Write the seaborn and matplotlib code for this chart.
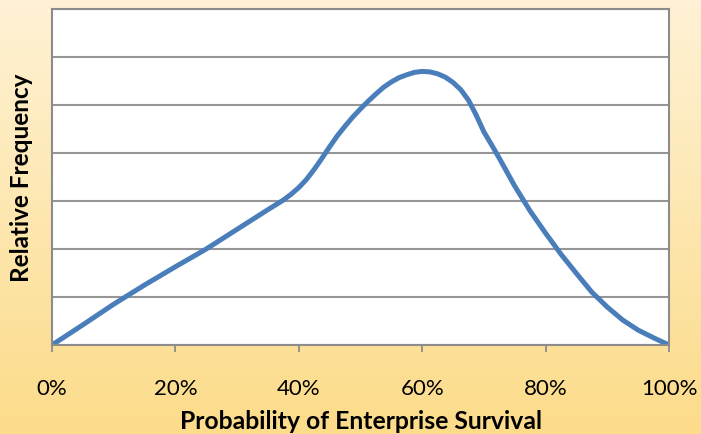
import numpy as np
import pandas as pd
import matplotlib
matplotlib.use("Agg")
import matplotlib.pyplot as plt
from matplotlib.colors import LinearSegmentedColormap
import seaborn as sns

# values
survival_pct = [0, 5, 10, 15, 20, 25, 30, 35, 36.25, 37.5, 38.75, 40, 41.25, 42.5,
                43.75, 45, 46.25, 47.5, 48.75, 50, 51.25, 52.5, 53.75, 55, 56.25,
                57.5, 58.75, 60, 61.25, 62.5, 63.75, 65, 66.25, 67.5, 68.75,
                70, 71.25, 72.5, 73.75, 75, 77.5, 80, 82.5, 85, 87.5, 90, 92.5, 95,
                97.5, 100]
rel_freq = [0, 0.42, 0.85, 1.25, 1.63, 2.0, 2.41, 2.82, 2.92, 3.02, 3.14, 3.28, 3.45,
            3.66, 3.89, 4.13, 4.36, 4.56, 4.75, 4.92, 5.08, 5.23, 5.37, 5.48, 5.57,
            5.63, 5.68, 5.70, 5.69, 5.65, 5.58, 5.47, 5.32, 5.10, 4.79, 4.44, 4.17,
            3.89, 3.60, 3.31, 2.79, 2.33, 1.89, 1.49, 1.10, 0.79, 0.52, 0.31, 0.15, 0]
x_ticks = [0, 20, 40, 60, 80, 100]
x_tick_labels = ["0%", "20%", "40%", "60%", "80%", "100%"]

df = pd.DataFrame({"survival": survival_pct, "freq": rel_freq})

plt.rcParams["font.family"] = ["Lato", "DejaVu Sans"]

fig = plt.figure(figsize=(7.01, 4.35), dpi=100)

# background gradient
bg = fig.add_axes([0, 0, 1, 1], zorder=0)
cmap = LinearSegmentedColormap.from_list("bg", ["#FFF2D6", "#FCDC8A"])
bg.imshow(np.linspace(0, 1, 256).reshape(-1, 1), aspect="auto", cmap=cmap,
          extent=[0, 1, 0, 1])
bg.axis("off")

ax = fig.add_axes([52 / 701, 89 / 435, 617 / 701, 336 / 435], zorder=1)
ax.set_facecolor("white")
sns.lineplot(data=df, x="survival", y="freq", ax=ax, color="#4A7EBB", linewidth=3.6,
             solid_capstyle="round", solid_joinstyle="round")

ax.set_xlim(0, 100)
ax.set_ylim(0, 7)
ax.set_yticks(range(0, 8))
ax.set_yticklabels([])
ax.tick_params(axis="y", length=0)
ax.set_xticks(x_ticks)
ax.set_xticklabels(x_tick_labels, fontsize=16)
ax.tick_params(axis="x", length=5, width=1.3, color="#8C8C8C", pad=19)
ax.grid(axis="y", color="#969696", linewidth=1.5)
ax.set_axisbelow(True)
for s in ax.spines.values():
    s.set_color("#8C8C8C")
    s.set_linewidth(1.5)

ax.set_xlabel("Probability of Enterprise Survival", fontsize=17.8, fontweight="bold",
              labelpad=8)
ax.set_ylabel("Relative Frequency", fontsize=17.5, fontweight="bold", labelpad=10)

fig.savefig("out.png", dpi=100)
